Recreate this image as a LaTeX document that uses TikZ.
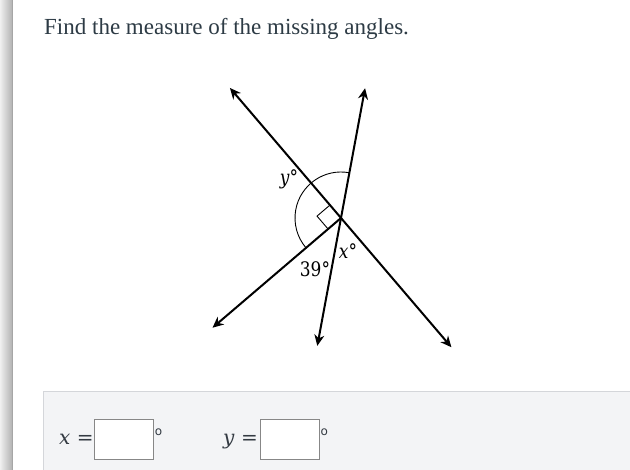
\documentclass[tikz,border=0pt]{standalone}
\usepackage{fontspec}
\setmainfont{Liberation Serif}
\newfontfamily\lab[FakeStretch=0.85]{DejaVu Serif}
\newfontfamily\ans{DejaVu Serif}
\newfontfamily\degf{DejaVu Sans}
\usetikzlibrary{arrows.meta}
\definecolor{titlecol}{RGB}{45,59,69}
\definecolor{panelfill}{RGB}{243,244,246}
\definecolor{panelline}{RGB}{212,214,218}
\definecolor{boxline}{RGB}{135,135,135}
\definecolor{anscol}{RGB}{51,58,66}
\tikzset{
  tip/.tip={Stealth[length=11pt,width=10pt,inset=3.5pt]},
  geoline/.style={line width=2pt, tip-tip},
  georay/.style={line width=2pt, -tip},
  thin mark/.style={line width=0.9pt},
  anglabel/.style={font={\lab\fontsize{20}{23}\selectfont}, inner sep=0pt},
  ansbox/.style={draw=boxline, fill=white, line width=1pt, minimum width=59pt, minimum height=40pt, inner sep=0pt},
  anslabel/.style={font={\ans\fontsize{20}{23}\selectfont}, text=anscol, anchor=base west, inner sep=0pt},
  degmark/.style={font={\degf\fontsize{12}{13}\selectfont}, text=anscol, inner sep=0pt}
}
\begin{document}
\begin{tikzpicture}[x=1pt,y=1pt]
\useasboundingbox (0,0) rectangle (630,470);
\fill[white] (0,0) rectangle (630,470);
% left shadow
\shade[left color=black!6, right color=black!30] (0,0) rectangle (12,470);
\fill[black!35] (11.5,0) rectangle (13,470);
% title
\node[anchor=base west, inner sep=0pt, text=titlecol, font={\fontsize{23}{27}\selectfont}] (title) at (44,435) {Find the measure of the missing angles.};
% geometry
\coordinate (O) at (341,252);
\coordinate (A1) at ([shift={(130.5:171)}]O);
\coordinate (A2) at ([shift={(310.5:170)}]O);
\coordinate (B1) at ([shift={(79.5:132)}]O);
\coordinate (B2) at ([shift={(259.5:130)}]O);
\coordinate (C) at ([shift={(220.5:169)}]O);
\draw[geoline] (A1) -- (A2);
\draw[geoline] (B1) -- (B2);
\draw[georay] (O) -- (C);
\draw[thin mark] ([shift={(79.5:46)}]O) arc[start angle=79.5, end angle=220.5, radius=46];
\draw[thin mark] ([shift={(130.5:17)}]O) -- ++(220.5:17) -- ([shift={(220.5:17)}]O);
\node[anglabel] (ylab) at (289,291) {\itshape y°};
\node[anglabel] (xlab) at (348,219) {\itshape x°};
\node[anglabel] (ang39) at (315,201) {39°};
% answer panel
\fill[panelfill] (43.5,0) rectangle (630,78.3);
\draw[panelline, line width=0.9pt] (43.5,0) -- (43.5,78.3) -- (630,78.3);
\node[anslabel] (xeq) at (59,25) {\textit{x} =};
\node[ansbox] (xbox) at (123.8,30.7) {};
\node[degmark] (xdeg) at (158.6,38) {o};
\node[anslabel] (yeq) at (223,25) {\textit{y} =};
\node[ansbox] (ybox) at (289.7,30.7) {};
\node[degmark] (ydeg) at (324.3,38) {o};
\end{tikzpicture}
\end{document}
